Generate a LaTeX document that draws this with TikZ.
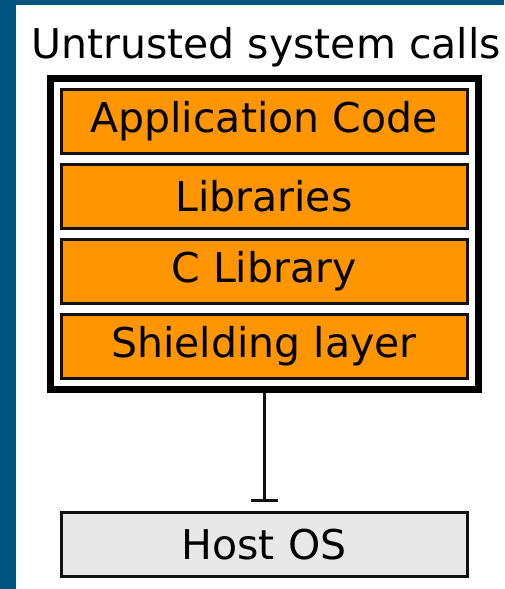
\documentclass[tikz,border=0pt]{standalone}
\usepackage{fontspec}
\setmainfont{DejaVu Sans}
\usepackage{xcolor}
\usetikzlibrary{arrows.meta}
\usetikzlibrary{positioning}
\definecolor{frameColor}{HTML}{00557F}
\definecolor{layerBgColor}{HTML}{FF9600}
\definecolor{hostBgColor}{HTML}{E8E8E8}
\definecolor{lineColor}{HTML}{111111}
\def\textA{Application Code}
\def\textB{Libraries}
\def\textC{C Library}
\def\textD{Shielding layer}
\def\textHost{Host OS}
\def\textTitle{Untrusted system calls}
\tikzset{
  layerbox/.style={draw=lineColor, line width=3pt, fill=layerBgColor,
    minimum width=406pt, minimum height=64pt, inner sep=0pt,
    font=\fontsize{41}{44}\selectfont},
  hostbox/.style={layerbox, fill=hostBgColor},
}

\begin{document}
\begin{tikzpicture}[x=1pt,y=-1pt]

% frame
\fill[frameColor] (0, 0) rectangle (504, 589);
\fill[white] (16, 5) rectangle (504, 589);
\useasboundingbox (0, 0) rectangle (504, 589);

% title
\node[anchor=base, font=\fontsize{41}{44}\selectfont] (title) at (266, 58) {\textTitle};

% enclave box
\node[draw=black, line width=7pt, minimum width=428pt, minimum height=311pt,
inner sep=0pt] (enclave) at (264, 234) {};

% layer boxes
\node[layerbox] (layerA) at (264, 121) {\textA};
\node[layerbox, below=8pt of layerA] (layerB) {\textB};
\node[layerbox, below=8pt of layerB] (layerC) {\textC};
\node[layerbox, below=8pt of layerC] (layerD) {\textD};

% host
\node[hostbox] (host) at (264, 544.5) {\textHost};

% link
\draw[lineColor, line width=3pt, shorten >=9pt, -{Bar[width=27pt, line width=3pt]}]
(enclave.south) -- (host.north);

\end{tikzpicture}
\end{document}
